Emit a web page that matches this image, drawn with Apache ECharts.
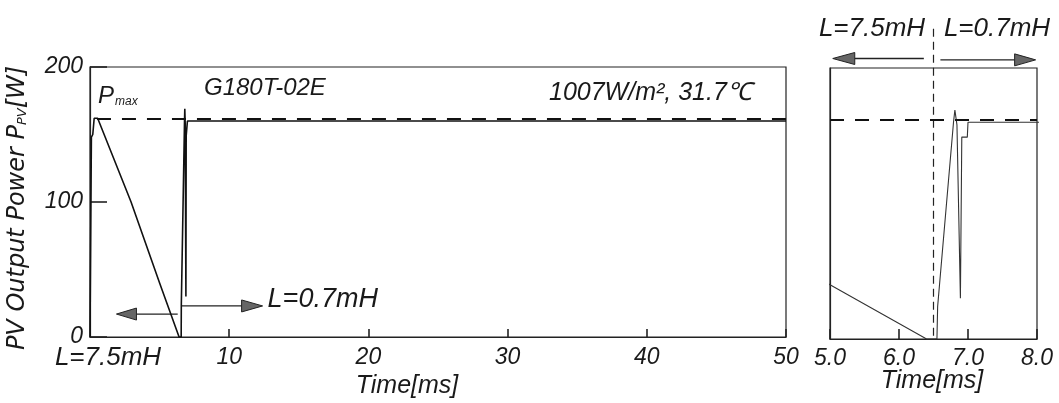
<!DOCTYPE html>
<html><head><meta charset="utf-8">
<script src="https://cdn.jsdelivr.net/npm/echarts@6/dist/echarts.min.js"></script>
<style>html,body{margin:0;padding:0;background:#fff}#c{width:1059px;height:403px}</style>
</head><body><div id="c"></div>
<script>
// ---- data ----
const timeMs  = [0, 0.05, 0.1, 0.2, 0.3, 0.55, 2.95, 5.0, 6.4, 6.55, 6.56, 6.79, 6.81, 6.84, 6.89, 6.91, 6.99, 7.0, 50];
const powerW  = [0, 0,   148, 150, 162, 162, 100,  40,  0,   0,    24,   160,  169,  158,  30,   149,  149,  160, 160];
const pmaxW = 162;
const mainXTicks = [0, 10, 20, 30, 40, 50];
const zoomXTicks = [5, 6, 7, 8];
const yTicks = [0, 100, 200];
const switchTimeMs = 6.5;
// annotation anchors (data coordinates)
const mainArrowL = [[6.3, 17], [1.9, 17]];
const mainArrowR = [[6.55, 23], [12.4, 23]];
const zoomArrowL = [[6.36, 207], [5.04, 207]];
const zoomArrowR = [[6.6, 206], [7.98, 206]];
const switchLineTop = 229;

const FONT = 'Liberation Sans';
const TXT = '#1a1a1a';
const lab = {fontFamily: FONT, fontStyle: 'italic', fontSize: 23, color: TXT};
const pairs = timeMs.map((t, i) => [t, powerW[i]]);
const step = a => a[1] - a[0];

const chart = echarts.init(document.getElementById('c'));
const axisCommon = {
  axisLine: {show: true, lineStyle: {color: '#222', width: 1.2}},
  splitLine: {show: false}
};
chart.setOption({
  animation: false,
  grid: [
    {left: 90, right: 273, top: 67, bottom: 66, show: true, borderColor: '#222', borderWidth: 1.2, containLabel: false, outerBoundsMode: 'none'},
    {left: 830, right: 22, top: 68, bottom: 64, show: true, borderColor: '#222', borderWidth: 1.2, containLabel: false, outerBoundsMode: 'none'}
  ],
  xAxis: [
    Object.assign({gridIndex: 0, type: 'value', min: mainXTicks[0], max: mainXTicks[mainXTicks.length - 1], interval: step(mainXTicks),
      axisTick: {show: true, inside: true, length: 8, lineStyle: {color: '#222', width: 1.6}},
      axisLabel: Object.assign({margin: 9, showMinLabel: false}, lab)}, axisCommon),
    Object.assign({gridIndex: 1, type: 'value', min: zoomXTicks[0], max: zoomXTicks[zoomXTicks.length - 1], interval: step(zoomXTicks),
      axisTick: {show: true, inside: true, length: 10, lineStyle: {color: '#222', width: 1.6}},
      axisLabel: Object.assign({margin: 8, formatter: v => v.toFixed(1)}, lab)}, axisCommon)
  ],
  yAxis: [
    Object.assign({gridIndex: 0, type: 'value', min: yTicks[0], max: yTicks[yTicks.length - 1], interval: step(yTicks),
      axisTick: {show: true, inside: true, length: 17, lineStyle: {color: '#222', width: 1.6}},
      axisLabel: Object.assign({margin: 7}, lab)}, axisCommon),
    Object.assign({gridIndex: 1, type: 'value', min: yTicks[0], max: yTicks[yTicks.length - 1], interval: step(yTicks),
      axisTick: {show: false}, axisLabel: {show: false}}, axisCommon)
  ],
  series: [
    {type: 'line', xAxisIndex: 0, yAxisIndex: 0, data: pairs, showSymbol: false, silent: true,
     lineStyle: {color: '#111', width: 1.6},
     markLine: {silent: true, symbol: 'none', label: {show: false},
       lineStyle: {type: [14, 11], color: '#111', width: 2},
       data: [[{coord: [0.5, pmaxW]}, {coord: [mainXTicks[mainXTicks.length - 1], pmaxW]}]]}},
    {type: 'line', xAxisIndex: 1, yAxisIndex: 1, data: pairs, showSymbol: false, silent: true,
     lineStyle: {color: '#333', width: 1.1},
     markLine: {silent: true, symbol: 'none', label: {show: false},
       lineStyle: {type: [14, 11], color: '#111', width: 2},
       data: [[{coord: [zoomXTicks[0], pmaxW]}, {coord: [zoomXTicks[zoomXTicks.length - 1], pmaxW]}]]}}
  ]
});

const px = (g, p) => chart.convertToPixel({gridIndex: g}, p);
function arrow(g, seg, headLen, headW) {
  const a = px(g, seg[0]), b = px(g, seg[1]);
  const dx = b[0] - a[0], dy = b[1] - a[1], L = Math.hypot(dx, dy);
  const ux = dx / L, uy = dy / L;
  const bx = b[0] - ux * headLen, by = b[1] - uy * headLen;
  return [
    {type: 'line', shape: {x1: a[0], y1: a[1], x2: bx, y2: by}, style: {stroke: '#222', lineWidth: 1.3}, silent: true},
    {type: 'polygon', shape: {points: [[b[0], b[1]], [bx - uy * headW, by + ux * headW], [bx + uy * headW, by - ux * headW]]},
     style: {fill: '#666', stroke: '#222', lineWidth: 1}, silent: true}
  ];
}
function txt(x, y, text, opts) {
  return {type: 'text', x: x, y: y, silent: true,
    style: Object.assign({text: text, fontFamily: FONT, fontStyle: 'italic', fontSize: 25, fill: TXT,
      align: 'left', verticalAlign: 'middle'}, opts || {})};
}
const swTop = px(1, [switchTimeMs, switchLineTop]), swBot = px(1, [switchTimeMs, 0]);
const ma = px(0, mainArrowR[1]);
const els = [].concat(
  arrow(0, mainArrowL, 20, 6),
  arrow(0, mainArrowR, 21, 6),
  arrow(1, zoomArrowL, 22, 6),
  arrow(1, zoomArrowR, 21, 6),
  [{type: 'line', shape: {x1: swTop[0], y1: swTop[1], x2: swBot[0], y2: swBot[1]},
    style: {stroke: '#222', lineWidth: 1.2, lineDash: [8, 5]}, silent: true}],
  [
    txt(ma[0] + 5, ma[1] - 6, 'L=0.7mH', {fontSize: 27}),
    txt(108, 358, 'L=7.5mH', {align: 'center', fontSize: 26}),
    txt(98, 96, 'P{s|max}', {fontSize: 24, rich: {s: {fontFamily: FONT, fontStyle: 'italic', fontSize: 12, fill: TXT, padding: [12, 0, 0, 1]}}}),
    txt(204, 88, 'G180T-02E', {fontSize: 24}),
    txt(549, 93, '1007W/m², 31.7℃', {fontSize: 25}),
    txt(872, 29, 'L=7.5mH', {align: 'center', fontSize: 26}),
    txt(997, 29, 'L=0.7mH', {align: 'center', fontSize: 26}),
    txt(407, 386, 'Time[ms]', {align: 'center', fontSize: 25}),
    txt(932, 381, 'Time[ms]', {align: 'center', fontSize: 25}),
    Object.assign(txt(18, 208, 'PV Output Power P{s|PV}[W]', {align: 'center', fontFamily: 'DejaVu Sans', fontSize: 24,
      rich: {s: {fontFamily: 'DejaVu Sans', fontStyle: 'italic', fontSize: 13, fill: TXT, padding: [10, 0, 0, 0]}}}), {rotation: Math.PI / 2})
  ]
);
chart.setOption({graphic: {elements: els}});
</script>
</body></html>
